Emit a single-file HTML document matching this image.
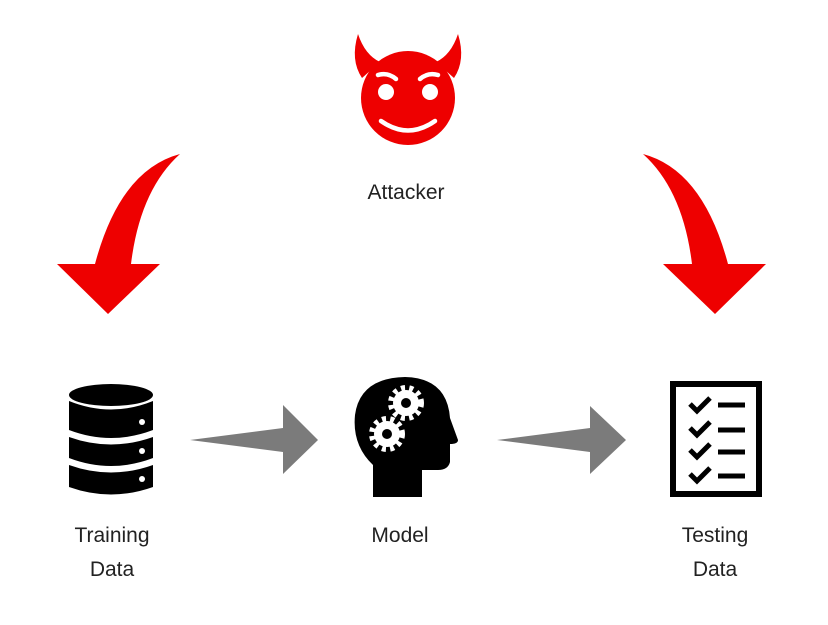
<!DOCTYPE html>
<html><head><style>
html,body{margin:0;padding:0;background:#fff;}
svg{display:block}
text{font-family:"Liberation Sans",sans-serif;font-size:21px;fill:#222;text-anchor:middle}
</style></head><body>
<svg width="828" height="625" viewBox="0 0 828 625">
<!-- devil -->
<g fill="#ee0000">
<path d="M358 34 Q350 60 362 78 L380 62 Q365 55 358 34Z"/>
<path d="M458 34 Q466 60 454 78 L436 62 Q451 55 458 34Z"/>
<circle cx="408" cy="98" r="47"/>
</g>
<g fill="#fff">
<circle cx="386" cy="92" r="8"/><circle cx="430" cy="92" r="8"/>
</g>
<g stroke="#fff" stroke-width="4.5" fill="none" stroke-linecap="round">
<path d="M378 75 Q388 72 396 79"/><path d="M420 79 Q428 72 438 75"/>
<path d="M381 121 Q408 140 435 121"/>
</g>
<text x="406" y="199">Attacker</text>
<!-- red curved arrows -->
<path fill="#ee0000" d="M180 154 Q120 170 95 264 L57 264 L108 314 L160 264 L131 264 Q140 190 180 154Z"/>
<path fill="#ee0000" d="M643 154 Q703 170 728 264 L766 264 L715 314 L663 264 L692 264 Q683 190 643 154Z"/>
<!-- database -->
<g fill="#000">
<ellipse cx="111" cy="395" rx="42" ry="11"/>
<path d="M69 401 Q111 418 153 401 L153 430 Q111 446 69 430Z"/>
<path d="M69 437 Q111 452 153 437 L153 458 Q111 474 69 458Z"/>
<path d="M69 465 Q111 480 153 465 L153 487 Q111 502 69 487Z"/>
</g>
<g fill="#fff"><circle cx="142" cy="422" r="3"/><circle cx="142" cy="451" r="3"/><circle cx="142" cy="479" r="3"/></g>
<!-- gray arrows -->
<path fill="#7b7b7b" d="M190 440 L283 428 L283 405 L318 440 L283 474 L283 452Z"/>
<path fill="#7b7b7b" d="M497 440 L590 428 L590 406 L626 440 L590 474 L590 452Z"/>
<!-- head -->
<path fill="#000" d="M373 497 L373 465 Q352 445 355 415 Q360 378 405 377 Q447 378 450 418 L458 440 Q458 444 450 444 L450 462 Q448 470 438 470 L422 470 L422 497Z"/>
<g fill="#fff">
<circle cx="406" cy="403" r="13"/><circle cx="387" cy="434" r="13"/>
</g>
<g stroke="#fff" stroke-width="6" stroke-dasharray="4 4.2" fill="none">
<circle cx="406" cy="403" r="15"/><circle cx="387" cy="434" r="15"/>
</g>
<g fill="#000"><circle cx="406" cy="403" r="5"/><circle cx="387" cy="434" r="5"/></g>
<!-- checklist -->
<rect x="673" y="384" width="86" height="110" fill="none" stroke="#000" stroke-width="6"/>
<g stroke="#000" stroke-width="5" fill="none">
<path d="M690 404 L697 411 L710 398"/><path d="M690 428 L697 435 L710 422"/>
<path d="M690 450 L697 457 L710 444"/><path d="M690 474 L697 481 L710 468"/>
</g>
<g stroke="#000" stroke-width="5">
<line x1="718" y1="405" x2="745" y2="405"/><line x1="718" y1="430" x2="745" y2="430"/>
<line x1="718" y1="452" x2="745" y2="452"/><line x1="718" y1="476" x2="745" y2="476"/>
</g>
<text x="112" y="542">Training</text><text x="112" y="576">Data</text>
<text x="400" y="542">Model</text>
<text x="715" y="542">Testing</text><text x="715" y="576">Data</text>
</svg>
</body></html>
